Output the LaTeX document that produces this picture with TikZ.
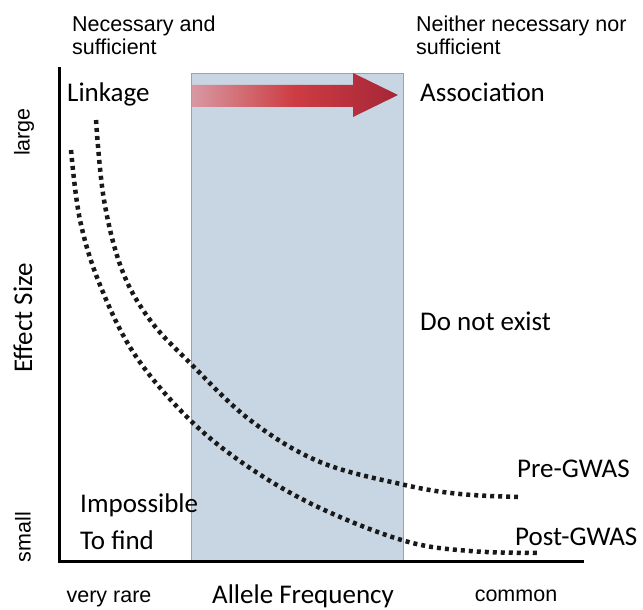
\documentclass[tikz,border=0pt]{standalone}
\usepackage{fontspec}
\setmainfont{Carlito}
\newfontfamily\arialf{Liberation Sans}
\begin{document}
\begin{tikzpicture}[x=1pt,y=-1pt,
  cal/.style={font=\fontsize{27}{32}\selectfont, inner sep=0pt},
  ari/.style={font=\arialf\fontsize{21.5}{23}\selectfont, inner sep=0pt},
  curve/.style={line width=4.5pt, dash pattern=on 4pt off 4pt, black!90},
  axis/.style={line width=3pt, black}]
\useasboundingbox (0,0) rectangle (643,610);
% blue band
\node[draw={rgb,255:red,128;green,168;blue,215}, line width=1.4pt, fill={rgb,255:red,200;green,213;blue,227}, minimum width=212pt, minimum height=488pt, inner sep=0pt, anchor=north west] (band) at (191,73) {};
% arrow
\shade[left color={rgb,255:red,216;green,152;blue,162}, right color={rgb,255:red,165;green,38;blue,55}, middle color={rgb,255:red,205;green,60;blue,66}]
  (192,85) -- (353,85) -- (353,73) -- (398,95) -- (353,117) -- (353,107) -- (192,107) -- cycle;
% axes
\coordinate (top) at (59,67);
\coordinate (origin) at (59,561);
\coordinate (right) at (584,561);
\draw[axis] (top) -- (origin) -- (right);
% curves
\draw[curve] plot[smooth, tension=0.6] coordinates {(96,120) (104,200) (122,270) (150,320) (190,363) (250,420) (320,462) (405,485) (460,494) (518,497)};
\draw[curve] plot[smooth, tension=0.6] coordinates {(71,150) (80,220) (100,285) (135,355) (190,420) (250,468) (320,508) (405,541) (470,551) (540,553)};
% texts
\node[ari, anchor=base west] (nas1) at (72,32) {Necessary and};
\node[ari, anchor=base west] (nas2) at (72,55) {sufficient};
\node[ari, anchor=base west] (nns1) at (416,32) {Neither necessary nor};
\node[ari, anchor=base west] (nns2) at (416,55) {sufficient};
\node[cal, anchor=base west] (link) at (67,102) {Linkage};
\node[cal, anchor=base west] (assoc) at (420,102) {Association};
\node[cal, anchor=base west] (dne) at (420,330) {Do not exist};
\node[cal, anchor=base west] (pre) at (517,477) {Pre-GWAS};
\node[cal, anchor=base west] (post) at (515,545) {Post-GWAS};
\node[cal, anchor=base west] (imp) at (80,512) {Impossible};
\node[cal, anchor=base west] (tof) at (80,549) {To find};
\node[ari, anchor=base] (vr) at (109,602) {very rare};
\node[cal, anchor=base] (af) at (303,603) {Allele Frequency};
\node[ari, anchor=base] (com) at (516,601) {common};
\node[ari, rotate=90, anchor=center] (lg) at (24,132) {large};
\node[cal, rotate=90, anchor=center] (es) at (23,318) {Effect Size};
\node[ari, rotate=90, anchor=center] (sm) at (23,537) {small};
\end{tikzpicture}
\end{document}
